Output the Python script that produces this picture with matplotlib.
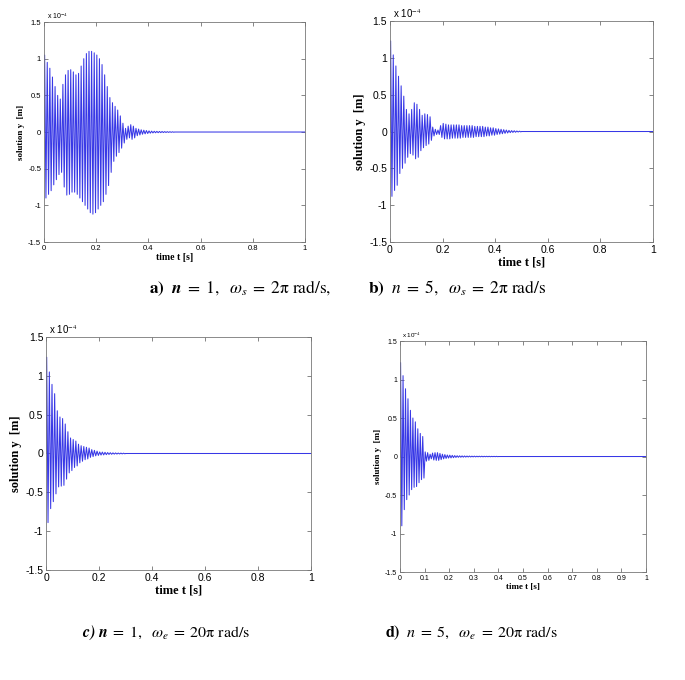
import numpy as np
import matplotlib
matplotlib.use("Agg")
import matplotlib.pyplot as plt

plt.rcParams["mathtext.fontset"] = "stix"

# peak values of the response, one upper and one lower peak per 0.01 s, in units of 1e-4 m
period = 0.01

a_upper = [1.05, 0.95, 0.87, 0.75, 0.62, 0.5, 0.45, 0.65, 0.78, 0.84, 0.85, 0.82, 0.78, 0.8, 0.9,
           1.0, 1.07, 1.1, 1.1, 1.08, 1.05, 1.0, 0.92, 0.78, 0.62, 0.47, 0.4, 0.35, 0.3, 0.22,
           0.12, 0.05, 0.08, 0.1, 0.08, 0.05, 0.04, 0.03, 0.025, 0.02, 0.015, 0.012, 0.01, 0.009,
           0.008, 0.007, 0.006, 0.005, 0.004, 0.003]
a_lower = [-0.9, -0.85, -0.8, -0.72, -0.65, -0.58, -0.55, -0.75, -0.86, -0.85, -0.82, -0.82, -0.85,
           -0.9, -0.95, -1.0, -1.05, -1.1, -1.12, -1.1, -1.05, -1.0, -0.95, -0.85, -0.73, -0.55,
           -0.4, -0.33, -0.28, -0.22, -0.15, -0.1, -0.08, -0.1, -0.08, -0.05, -0.04, -0.03, -0.025,
           -0.02, -0.015, -0.012, -0.01, -0.009, -0.008, -0.007, -0.006, -0.005, -0.004, -0.003]

b_upper = [1.23, 1.04, 0.89, 0.75, 0.62, 0.48, 0.3, 0.24, 0.3, 0.39, 0.37, 0.3, 0.22, 0.24, 0.23,
           0.2, 0.06, 0.03, 0.02, 0.08, 0.11, 0.1, 0.09, 0.09, 0.09, 0.09, 0.09, 0.08, 0.08, 0.08,
           0.08, 0.08, 0.07, 0.07, 0.07, 0.07, 0.06, 0.06, 0.05, 0.05, 0.04, 0.035, 0.03, 0.025,
           0.02, 0.015, 0.012, 0.01, 0.007, 0.005]
b_lower = [-0.88, -0.8, -0.73, -0.57, -0.5, -0.43, -0.35, -0.3, -0.32, -0.37, -0.35, -0.26, -0.22,
           -0.19, -0.17, -0.12, -0.06, -0.04, -0.04, -0.08, -0.1, -0.1, -0.1, -0.09, -0.09, -0.09,
           -0.09, -0.08, -0.08, -0.08, -0.08, -0.08, -0.07, -0.07, -0.07, -0.07, -0.06, -0.06,
           -0.05, -0.05, -0.04, -0.035, -0.03, -0.025, -0.02, -0.015, -0.012, -0.01, -0.007, -0.005]

c_upper = [1.24, 1.05, 0.89, 0.77, 0.55, 0.47, 0.45, 0.38, 0.28, 0.2, 0.18, 0.16, 0.12, 0.1, 0.09,
           0.08, 0.07, 0.05, 0.04, 0.03, 0.02, 0.018, 0.015, 0.012, 0.01, 0.008, 0.007, 0.006,
           0.005, 0.004]
c_lower = [-0.89, -0.71, -0.62, -0.52, -0.43, -0.42, -0.41, -0.33, -0.25, -0.22, -0.18, -0.16,
           -0.12, -0.1, -0.08, -0.07, -0.05, -0.04, -0.03, -0.025, -0.02, -0.018, -0.015, -0.012,
           -0.01, -0.008, -0.007, -0.006, -0.005, -0.004]

d_upper = [1.22, 1.05, 0.88, 0.75, 0.6, 0.5, 0.45, 0.36, 0.3, 0.26, 0.06, 0.05, 0.03, 0.045, 0.05,
           0.05, 0.04, 0.03, 0.025, 0.02, 0.018, 0.015, 0.012, 0.01, 0.009, 0.008, 0.007, 0.006,
           0.006, 0.005, 0.005, 0.004, 0.004, 0.004, 0.003, 0.003, 0.003, 0.002, 0.002, 0.002]
d_lower = [-0.9, -0.69, -0.56, -0.5, -0.43, -0.4, -0.39, -0.34, -0.3, -0.28, -0.06, -0.05, -0.03,
           -0.045, -0.05, -0.05, -0.04, -0.03, -0.025, -0.02, -0.018, -0.015, -0.012, -0.01, -0.009,
           -0.008, -0.007, -0.006, -0.006, -0.005, -0.005, -0.004, -0.004, -0.004, -0.003, -0.003,
           -0.003, -0.002, -0.002, -0.002]

y_ticks = [-1.5, -1, -0.5, 0, 0.5, 1, 1.5]
x_ticks_coarse = [0, 0.2, 0.4, 0.6, 0.8, 1]
x_ticks_fine = [0, 0.1, 0.2, 0.3, 0.4, 0.5, 0.6, 0.7, 0.8, 0.9, 1]

captions = [
    r"$\mathbf{a)}\ \ \mathbfit{n}\;=\;1,\ \ \omega_s\;=\;2\mathrm{\pi}\ \mathrm{rad/s},$",
    r"$\mathbf{b)}\ \ n\;=\;5,\ \ \omega_s\;=\;2\mathrm{\pi}\ \mathrm{rad/s}$",
    r"$\mathbfit{c)}\ \mathbfit{n}\;=\;1,\ \ \omega_e\;=\;20\mathrm{\pi}\ \mathrm{rad/s}$",
    r"$\mathbf{d)}\ \ n\;=\;5,\ \ \omega_e\;=\;20\mathrm{\pi}\ \mathrm{rad/s}$",
]


def zigzag(upper, lower):
    # line through alternating upper/lower peaks, then flat to t = 1
    t, y = [0.0], [0.0]
    for k in range(len(upper)):
        t += [k * period + 0.0025, k * period + 0.0075]
        y += [upper[k], lower[k]]
    t += [len(upper) * period, 1.0]
    y += [0.0, 0.0]
    return np.array(t), np.array(y)


fig = plt.figure(figsize=(6.85, 6.8), dpi=100)

panels = [
    # rect, upper, lower, xticks, tick size, ylabel size, xlabel size
    ([0.0642, 0.6441, 0.3810, 0.3235], a_upper, a_lower, x_ticks_coarse, 5.5, 6.5, 7),
    ([0.5693, 0.6441, 0.3839, 0.3250], b_upper, b_lower, x_ticks_coarse, 7.5, 9, 9),
    ([0.0672, 0.1618, 0.3869, 0.3426], c_upper, c_lower, x_ticks_coarse, 7.5, 9, 9),
    ([0.5839, 0.1588, 0.3591, 0.3397], d_upper, d_lower, x_ticks_fine, 5, 6.5, 6.5),
]

for rect, up, lo, xt, fs_tick, fs_ylab, fs_xlab in panels:
    ax = fig.add_axes(rect)
    t, y = zigzag(up, lo)
    ax.plot(t, y, color="#3838e6", linewidth=0.75)
    ax.set_xlim(0, 1)
    ax.set_ylim(-1.5, 1.5)
    ax.set_xticks(xt)
    ax.set_xticklabels([f"{v:g}" for v in xt], family="Liberation Sans", fontsize=fs_tick)
    ax.set_yticks(y_ticks)
    ax.set_yticklabels([f"{v:g}" for v in y_ticks], family="Liberation Sans", fontsize=fs_tick)
    ax.tick_params(direction="in", top=True, right=True, length=3, width=0.5,
                   color="#555555", pad=2)
    for s in ax.spines.values():
        s.set_color("#777777")
        s.set_linewidth(0.6)
    ax.set_ylabel("solution y  [m]", family="Liberation Serif", fontweight="bold",
                  fontsize=fs_ylab, labelpad=2)
    ax.set_xlabel("time t [s]", family="Liberation Serif", fontweight="bold",
                  fontsize=fs_xlab, labelpad=1)
    ax.text(0.01, 1.005, r"x 10$^{-4}$", transform=ax.transAxes, family="Liberation Sans",
            fontsize=fs_tick - 0.5, va="bottom", ha="left")

fig.text(0.350, 1 - 288 / 680, captions[0], fontsize=12.5, ha="center", va="center")
fig.text(0.668, 1 - 288 / 680, captions[1], fontsize=12.5, ha="center", va="center")
fig.text(0.243, 1 - 633 / 680, captions[2], fontsize=11.5, ha="center", va="center")
fig.text(0.688, 1 - 633 / 680, captions[3], fontsize=11.5, ha="center", va="center")

fig.savefig("out.png", dpi=100)
